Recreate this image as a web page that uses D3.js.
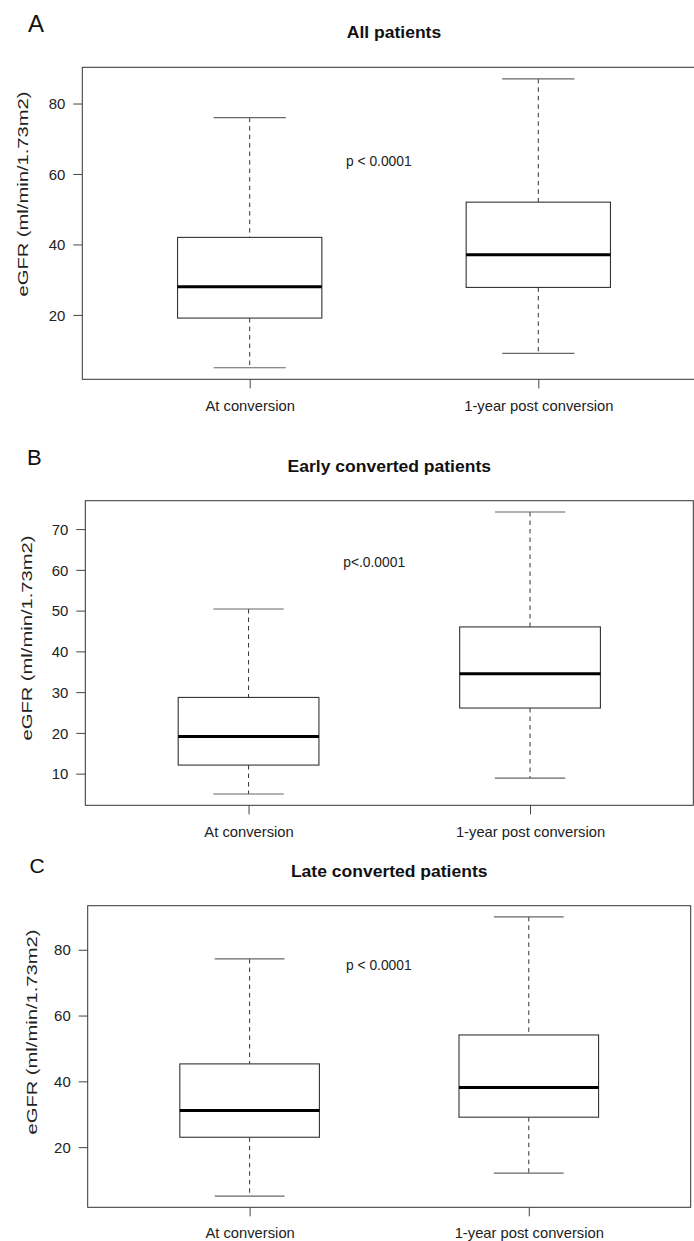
<!DOCTYPE html>
<html>
<head>
<meta charset="utf-8">
<script src="https://cdn.jsdelivr.net/npm/d3@7"></script>
<style>
  html, body { margin: 0; padding: 0; background: #fff; }
  svg { display: block; font-family: "Liberation Sans", Arial, Helvetica, sans-serif; }
</style>
</head>
<body>
<div id="chart"></div>
<script>
// ---------------- data ----------------
const categories = ["At conversion", "1-year post conversion"];
const panelLetters = ["A", "B", "C"];
const panelTitles = ["All patients", "Early converted patients", "Late converted patients"];
const pLabels = ["p < 0.0001", "p<.0.0001", "p < 0.0001"];
const yLabel = "eGFR (ml/min/1.73m2)";
// [lower whisker, Q1, median, Q3, upper whisker]
const allPatients = [[5, 19.1, 28, 42, 76], [9.1, 27.8, 37.1, 52, 87]];
const earlyPatients = [[5, 12.1, 19.1, 28.7, 50.4], [8.9, 26.1, 34.5, 46, 74.2]];
const latePatients = [[5.1, 23, 31.1, 45.3, 77.2], [12.1, 29.1, 38.1, 54.1, 90]];
const yTicksAll = [20, 40, 60, 80];
const yTicksEarly = [10, 20, 30, 40, 50, 60, 70];
const yTicksLate = [20, 40, 60, 80];

const panelStats = [allPatients, earlyPatients, latePatients];
const panelTicks = [yTicksAll, yTicksEarly, yTicksLate];

// ---------------- layout ----------------
const W = 694, H = 1241;
const layouts = [
  { left: 82.3, right: 705.7, top: 67.3, bottom: 379.3, letterX: 28, letterY: 31.5, letterSize: 24,
    titleY: 37.7, pX: 346, pY: 166, yLabX: 22, yLabCY: 194, xLabDy: 32 },
  { left: 85.3, right: 693.3, top: 500.7, bottom: 805.3, letterX: 27, letterY: 465, letterSize: 22,
    titleY: 472.3, pX: 343.3, pY: 566.5, yLabX: 26.5, yLabCY: 638, xLabDy: 32 },
  { left: 87.7, right: 690.7, top: 905.7, bottom: 1207.3, letterX: 29.5, letterY: 873.3, letterSize: 21,
    titleY: 876.7, pX: 346, pY: 970, yLabX: 31, yLabCY: 1032, xLabDy: 30.5 }
];

const svg = d3.select("#chart").append("svg")
  .attr("width", W).attr("height", H)
  .attr("viewBox", `0 0 ${W} ${H}`);
svg.append("rect").attr("width", W).attr("height", H).attr("fill", "#fff");

function stretch(sel, f) {
  sel.each(function () {
    const L = this.getComputedTextLength();
    this.setAttribute("textLength", L * f);
    this.setAttribute("lengthAdjust", "spacingAndGlyphs");
  });
}

panelStats.forEach((stats, i) => {
  const L = layouts[i];
  const g = svg.append("g");

  // y scale with R-style 4% extension
  const lo = d3.min(stats, d => d[0]);
  const hi = d3.max(stats, d => d[4]);
  const ext = (hi - lo) * 0.04;
  const y = d3.scaleLinear().domain([lo - ext, hi + ext]).range([L.bottom, L.top]);
  const x = d3.scalePoint().domain(categories).range([L.left, L.right]).padding(0.58);
  const step = x.step();
  const boxW = step * 0.5, capW = step * 0.25;

  // frame
  g.append("rect")
    .attr("x", L.left).attr("y", L.top)
    .attr("width", L.right - L.left).attr("height", L.bottom - L.top)
    .attr("fill", "none").attr("stroke", "#333").attr("stroke-width", 1);

  // y axis
  const yAx = g.append("g").attr("transform", `translate(${L.left},0)`)
    .call(d3.axisLeft(y).tickValues(panelTicks[i]).tickSize(9).tickPadding(8).tickFormat(d3.format("d")));
  yAx.select(".domain").remove();
  yAx.selectAll(".tick line").attr("stroke", "#444");
  yAx.selectAll(".tick text")
    .attr("font-family", "Liberation Sans, Arial, sans-serif")
    .attr("font-size", 14.5).attr("fill", "#222").attr("dy", "0.36em");
  stretch(yAx.selectAll(".tick text"), 1.03);

  // x axis
  const xAx = g.append("g").attr("transform", `translate(0,${L.bottom})`)
    .call(d3.axisBottom(x).tickSize(9).tickPadding(8));
  xAx.select(".domain").remove();
  xAx.selectAll(".tick line").attr("stroke", "#444");
  xAx.selectAll(".tick text")
    .attr("font-family", "Liberation Sans, Arial, sans-serif")
    .attr("font-size", 14.2).attr("fill", "#222")
    .attr("y", L.xLabDy).attr("dy", 0);
  stretch(xAx.selectAll(".tick text"), 1.04);

  // boxes
  const boxes = g.selectAll(".bx").data(stats.map((s, k) => ({ cat: categories[k], s })))
    .enter().append("g").attr("class", "bx");
  boxes.append("line")
    .attr("x1", d => x(d.cat)).attr("x2", d => x(d.cat))
    .attr("y1", d => y(d.s[4])).attr("y2", d => y(d.s[3]))
    .attr("stroke", "#333").attr("stroke-width", 1).attr("stroke-dasharray", "4.5,4");
  boxes.append("line")
    .attr("x1", d => x(d.cat)).attr("x2", d => x(d.cat))
    .attr("y1", d => y(d.s[1])).attr("y2", d => y(d.s[0]))
    .attr("stroke", "#333").attr("stroke-width", 1).attr("stroke-dasharray", "4.5,4");
  boxes.append("line")
    .attr("x1", d => x(d.cat) - capW / 2).attr("x2", d => x(d.cat) + capW / 2)
    .attr("y1", d => y(d.s[4])).attr("y2", d => y(d.s[4]))
    .attr("stroke", "#666").attr("stroke-width", 1.2);
  boxes.append("line")
    .attr("x1", d => x(d.cat) - capW / 2).attr("x2", d => x(d.cat) + capW / 2)
    .attr("y1", d => y(d.s[0])).attr("y2", d => y(d.s[0]))
    .attr("stroke", "#666").attr("stroke-width", 1.2);
  boxes.append("rect")
    .attr("x", d => x(d.cat) - boxW / 2).attr("width", boxW)
    .attr("y", d => y(d.s[3])).attr("height", d => y(d.s[1]) - y(d.s[3]))
    .attr("fill", "#fff").attr("stroke", "#333").attr("stroke-width", 1.1);
  boxes.append("line")
    .attr("x1", d => x(d.cat) - boxW / 2).attr("x2", d => x(d.cat) + boxW / 2)
    .attr("y1", d => y(d.s[2])).attr("y2", d => y(d.s[2]))
    .attr("stroke", "#000").attr("stroke-width", 3);

  // title
  const t = g.append("text")
    .attr("x", (L.left + L.right) / 2).attr("y", L.titleY)
    .attr("text-anchor", "middle").attr("font-weight", "bold")
    .attr("font-size", 17).attr("fill", "#111").text(panelTitles[i]);
  stretch(t, 1.03);

  // panel letter
  g.append("text")
    .attr("x", L.letterX).attr("y", L.letterY)
    .attr("font-size", L.letterSize).attr("fill", "#111").text(panelLetters[i]);

  // p-value
  g.append("text")
    .attr("x", L.pX).attr("y", L.pY)
    .attr("font-size", 13.8).attr("fill", "#222").text(pLabels[i]);

  // y label
  g.append("text")
    .attr("transform", `translate(${L.yLabX + 5.5},${L.yLabCY}) rotate(-90)`)
    .attr("text-anchor", "middle")
    .attr("font-size", 15.5).attr("fill", "#222").text(yLabel)
    .attr("textLength", 205).attr("lengthAdjust", "spacingAndGlyphs");
});
</script>
</body>
</html>
